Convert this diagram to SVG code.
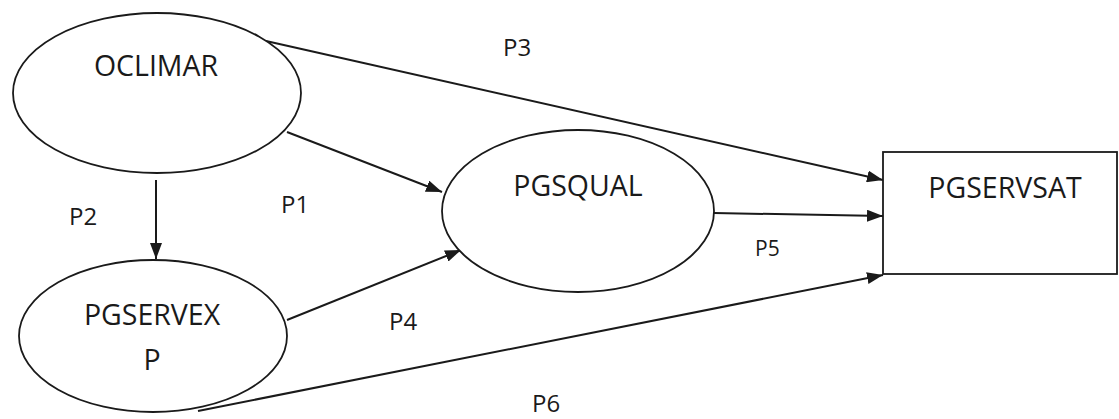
<svg xmlns="http://www.w3.org/2000/svg" width="1119" height="419" viewBox="0 0 1119 419">
  <style>
    .shape { fill: #ffffff; stroke: #1a1a1a; stroke-width: 1.8; }
    .edge { fill: none; stroke: #1a1a1a; stroke-width: 2; marker-end: url(#arrow); }
    .name { font-family: "Open Sans", "Liberation Sans", sans-serif; font-size: 28.5px; fill: #1a1a1a; text-anchor: middle; }
    .path-label { font-family: "Open Sans", "Liberation Sans", sans-serif; font-size: 24px; fill: #1a1a1a; }
  </style>
  <defs>
    <marker id="arrow" viewBox="0 0 16 12" refX="16" refY="6" markerWidth="16" markerHeight="12" markerUnits="userSpaceOnUse" orient="auto">
      <path d="M0,0 L16,6 L0,12 Z" fill="#1a1a1a"/>
    </marker>
  </defs>
  <rect width="1119" height="419" fill="#ffffff"/>

  <!-- connectors -->
  <g id="connectors">
    <line class="edge" x1="266" y1="41" x2="883" y2="180"/>
    <line class="edge" x1="287" y1="132" x2="442" y2="192"/>
    <line class="edge" x1="156" y1="180" x2="156" y2="259"/>
    <line class="edge" x1="287" y1="320" x2="461" y2="250"/>
    <line class="edge" x1="714" y1="213" x2="883" y2="216"/>
    <line class="edge" x1="198" y1="411" x2="883" y2="275"/>
  </g>

  <!-- nodes -->
  <g id="node-oclimar">
    <ellipse class="shape" cx="157" cy="93" rx="144" ry="80"/>
    <text class="name" x="156" y="76">OCLIMAR</text>
  </g>
  <g id="node-pgservexp">
    <ellipse class="shape" cx="153" cy="336" rx="134" ry="76"/>
    <text class="name" x="152" y="325">PGSERVEX</text>
    <text class="name" x="152" y="370">P</text>
  </g>
  <g id="node-pgsqual">
    <ellipse class="shape" cx="578" cy="211" rx="136" ry="81"/>
    <text class="name" x="578" y="196">PGSQUAL</text>
  </g>
  <g id="node-pgservsat">
    <rect class="shape" x="883" y="152" width="234" height="122"/>
    <text class="name" x="1005" y="198">PGSERVSAT</text>
  </g>

  <!-- path labels -->
  <g id="labels">
    <text class="path-label" x="503" y="56">P3</text>
    <text class="path-label" x="281" y="213">P1</text>
    <text class="path-label" x="69" y="225">P2</text>
    <text class="path-label" x="389" y="330">P4</text>
    <text class="path-label" x="755" y="256" style="font-size:21px">P5</text>
    <text class="path-label" x="532" y="412">P6</text>
  </g>
</svg>
